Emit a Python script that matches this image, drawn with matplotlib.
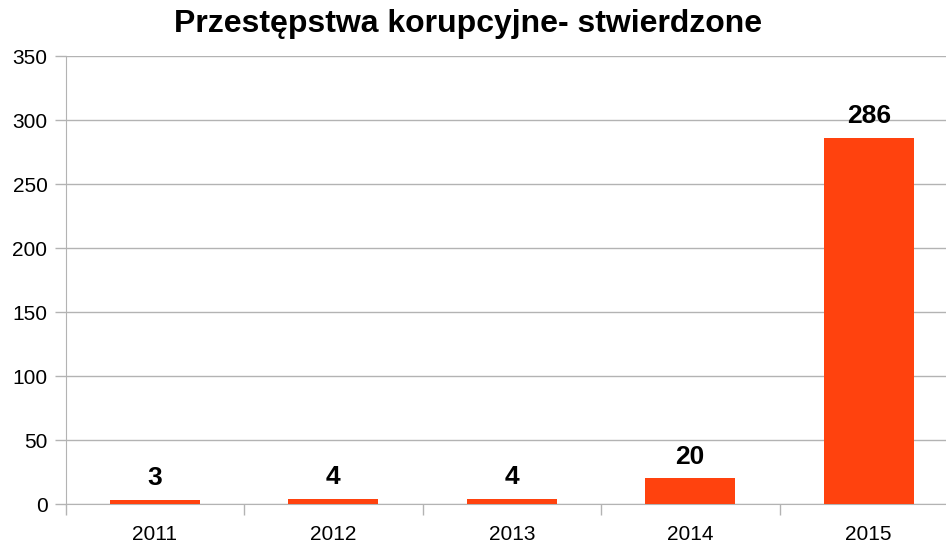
import matplotlib
matplotlib.use("Agg")
import matplotlib.pyplot as plt
import numpy as np

years = ["2011", "2012", "2013", "2014", "2015"]
values = [3, 4, 4, 20, 286]
title = "Przestępstwa korupcyjne- stwierdzone"

plt.rcParams['font.family'] = ['Liberation Sans', 'DejaVu Sans']

fig = plt.figure(figsize=(9.46, 5.47), dpi=100)
ax = fig.add_axes([65.5/946, 43/547, 892.5/946, 448/547])

x = np.arange(len(years))
bars = ax.bar(x, values, width=0.505, color='#ff420e', zorder=3)
for xi, v in zip(x, values):
    ax.annotate(str(v), (xi, v), xytext=(0, 7), textcoords='offset points',
                ha='center', va='bottom', fontsize=19, fontweight='bold', color='black', zorder=4)

ax.set_xlim(-0.5, 4.5)
ax.set_ylim(0, 350)
ax.set_yticks(np.arange(0, 351, 50))
ax.set_xticks(x)
ax.set_xticklabels(years)
ax.set_xticks(np.arange(-0.5, 4.6, 1.0), minor=True)
ax.tick_params(axis='x', which='major', length=0, labelsize=15, pad=15)
ax.tick_params(axis='x', which='minor', length=8, color='#b3b3b3', width=1)
ax.tick_params(axis='y', length=8, color='#b3b3b3', width=1, labelsize=15, pad=5)
ax.grid(axis='y', color='#b3b3b3', linewidth=1, zorder=0)
for s in ['top', 'right']:
    ax.spines[s].set_visible(False)
ax.spines['left'].set_color('#b3b3b3')
ax.spines['bottom'].set_color('#b3b3b3')

fig.text(468/946, 1 - 24/547, title, ha='center', va='center', fontsize=23, fontweight='bold')

fig.savefig("out.png", dpi=100)
